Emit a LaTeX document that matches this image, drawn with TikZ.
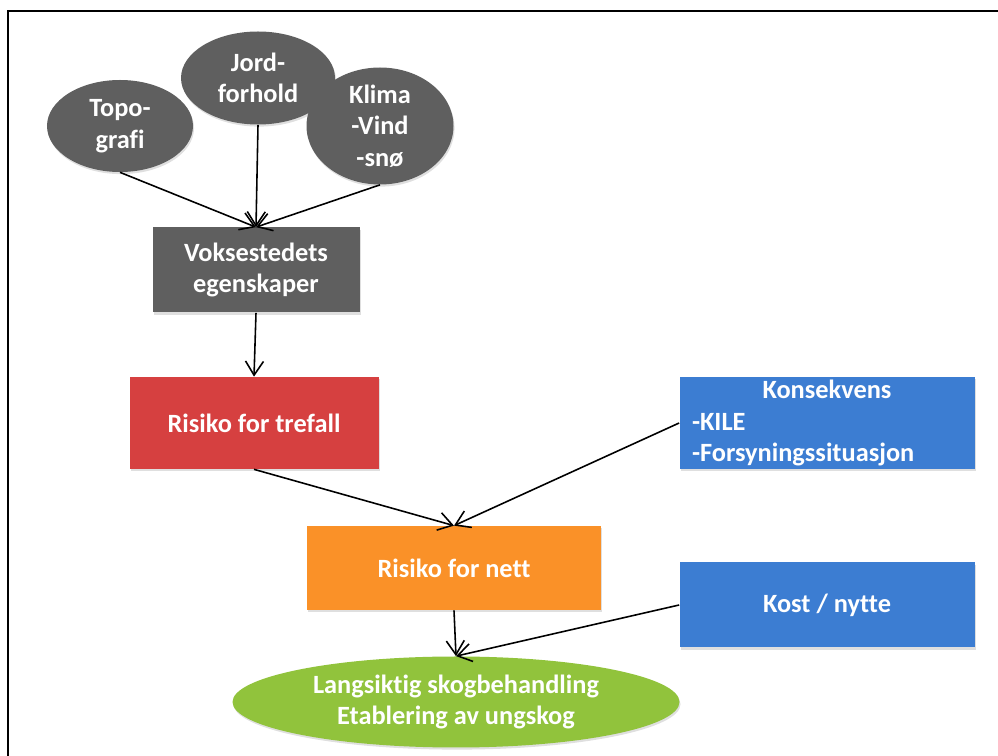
\documentclass[tikz,border=0pt]{standalone}
\usepackage{fontspec}
\setmainfont{Carlito}[Ligatures=NoCommon]
\usepackage{tikz}
\usetikzlibrary{shapes.geometric,arrows.meta,shadows}

\definecolor{grayfill}{RGB}{95,95,95}
\definecolor{redfill}{RGB}{214,64,64}
\definecolor{orangefill}{RGB}{250,145,40}
\definecolor{bluefill}{RGB}{60,125,210}
\definecolor{greenfill}{RGB}{145,195,60}

\tikzset{
	factor/.style={shape=ellipse,fill=grayfill,draw=none,text=white,align=center,inner sep=0pt,
		drop shadow={opacity=0.25,shadow xshift=0.6pt,shadow yshift=-1.2pt}},
	box/.style={shape=rectangle,draw=none,text=white,align=center,inner sep=0pt,
		drop shadow={opacity=0.25,shadow xshift=0.6pt,shadow yshift=-1.2pt}},
	link/.style={-{Straight Barb[length=2.8mm,width=3.6mm]},line width=0.9pt}
}

\begin{document}
\begin{tikzpicture}[font=\fontsize{15}{18}\selectfont\bfseries]
	\useasboundingbox (0,0) rectangle (19.96,15.12);
	\begin{scope}
		\clip (0,0) rectangle (19.96,15.12);
		\draw[line width=1.3pt] (0.16,-1) rectangle (21,14.9);
	\end{scope}

	\node[factor,minimum width=2.92cm,minimum height=1.84cm] (topo) at (2.40, 12.60) {Topo-\\grafi};
	\node[factor,minimum width=3.08cm,minimum height=1.86cm] (jord) at (5.16, 13.56) {Jord-\\forhold};
	\node[factor,minimum width=2.94cm,minimum height=1.90cm] (klima) at (7.60, 12.60) {Klima\\-Vind\\-snø};
	\node[box,fill=grayfill,minimum width=4.14cm,minimum height=1.70cm] (vokse) at (5.12, 9.72) {Voksestedets\\egenskaper};
	\node[box,fill=redfill,minimum width=4.98cm,minimum height=1.84cm] (trefall) at (5.08, 6.66) {Risiko for trefall};
	\node[box,fill=bluefill,minimum width=5.90cm,minimum height=1.84cm,text width=5.40cm,align=left] (kons) at (16.54, 6.66)
		{\makebox[5.40cm][c]{Konsekvens}\\-KILE\\-Forsyningssituasjon};
	\node[box,fill=orangefill,minimum width=5.88cm,minimum height=1.68cm] (nett) at (9.08, 3.76) {Risiko for nett};
	\node[box,fill=bluefill,minimum width=5.90cm,minimum height=1.70cm] (kost) at (16.54, 3.02) {Kost / nytte};
	\node[factor,fill=greenfill,minimum width=8.94cm,minimum height=1.82cm] (skog) at (9.12, 1.08)
		{Langsiktig skogbehandling\\Etablering av ungskog};

	\path[link] (topo.south) edge (vokse.north);
	\path[link] (jord.south) edge (vokse.north);
	\path[link] (klima.south) edge (vokse.north);
	\path[link] (vokse.south) edge (trefall.north);
	\path[link] (trefall.south) edge (nett.north);
	\path[link] (kons.west) edge (nett.north);
	\path[link] (nett.south) edge (skog.north);
	\path[link] (kost.west) edge (skog.north);
\end{tikzpicture}
\end{document}
